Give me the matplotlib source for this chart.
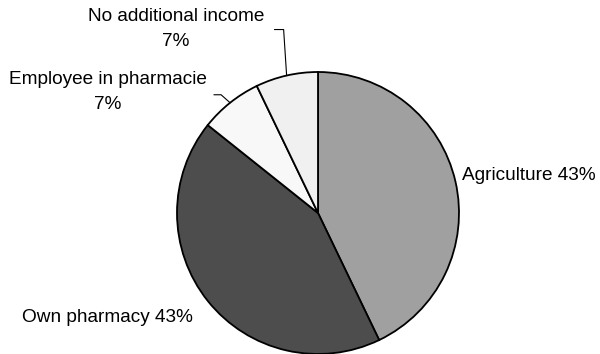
import numpy as np
from matplotlib import pyplot as plt

plt.rcParams['font.family'] = ['Liberation Sans', 'DejaVu Sans']

labels = ['Agriculture', 'Own pharmacy', 'Employee in pharmacie', 'No additional income']
shares = [6, 6, 1, 1]
pct_text = ['43%', '43%', '7%', '7%']
colors = ['#a0a0a0', '#4d4d4d', '#f8f8f8', '#f0f0f0']

W, H = 600, 354
fig = plt.figure(figsize=(W / 100, H / 100), dpi=100)
ax = fig.add_axes([0, 0, 1, 1])

cx, cy, r = 318, H - 213, 141
wedges, _ = ax.pie(shares, colors=colors, startangle=90, counterclock=False,
                   center=(cx, cy), radius=r, frame=True,
                   wedgeprops=dict(edgecolor='black', linewidth=1.3))
ax.set_xlim(0, W)
ax.set_ylim(0, H)
ax.set_aspect('equal')
ax.axis('off')


def edge_point(w):
    mid = np.deg2rad((w.theta1 + w.theta2) / 2)
    return cx + r * np.cos(mid), cy + r * np.sin(mid)


fs = 13.7
# Agriculture
ax.text(462, H - 175, labels[0] + ' ' + pct_text[0], fontsize=fs, va='center', ha='left')
# Own pharmacy
ax.text(22, H - 317, labels[1] + ' ' + pct_text[1], fontsize=fs, va='center', ha='left')
# Employee in pharmacie
ax.text(108, H - 92, labels[2] + '\n' + pct_text[2], fontsize=fs, va='center', ha='center',
        linespacing=1.58)
x0, y0 = edge_point(wedges[2])
ax.plot([x0, x0 - 9, x0 - 16], [y0, y0 + 8, y0 + 8], color='black', lw=0.8)
# No additional income
ax.text(176, H - 29, labels[3] + '\n' + pct_text[3], fontsize=fs, va='center', ha='center',
        linespacing=1.55)
x0, y0 = edge_point(wedges[3])
ax.plot([x0, x0 - 3, x0 - 12], [y0, y0 + 46, y0 + 46], color='black', lw=0.8)

fig.savefig('out.png', dpi=100)
